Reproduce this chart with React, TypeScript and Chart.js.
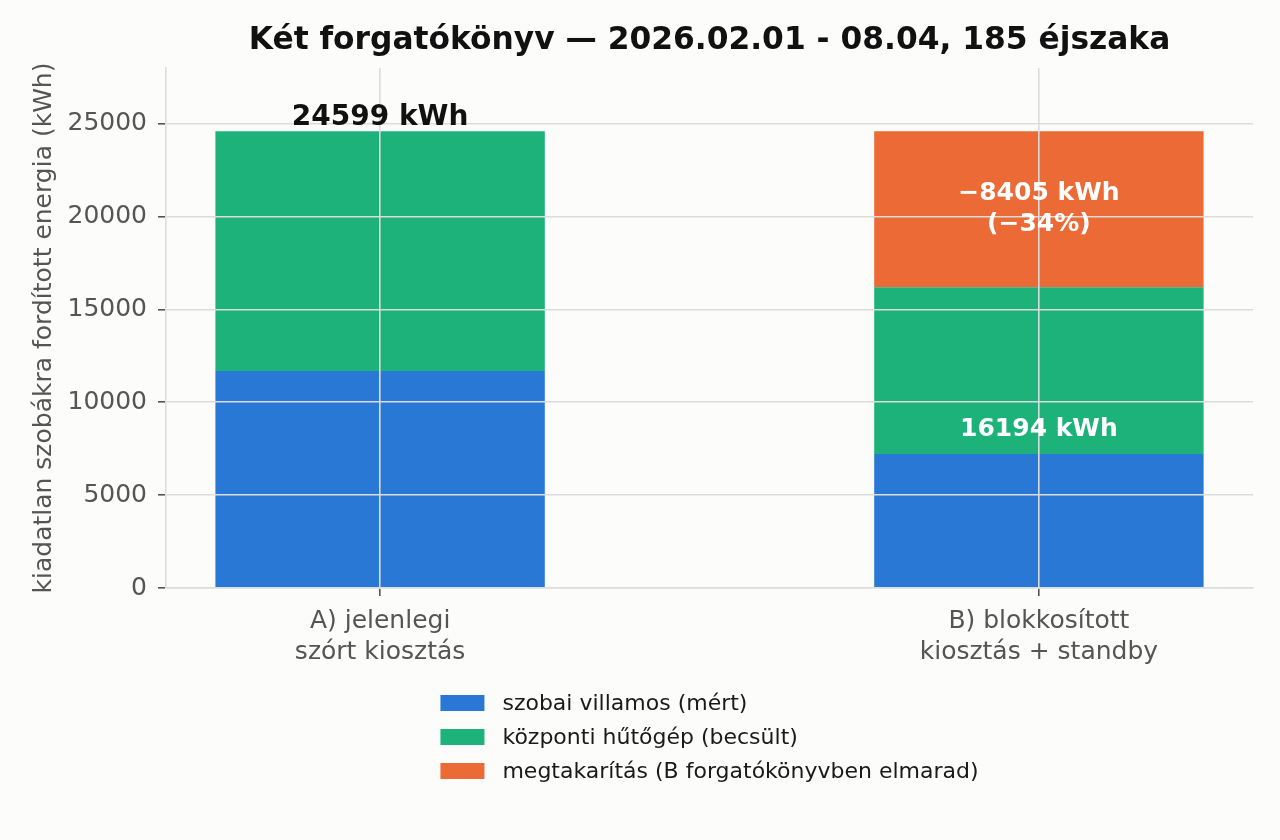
import React, { useEffect, useRef } from "react";
import { Chart, registerables } from "chart.js";

Chart.register(...registerables);

// ---- data ----
const categories: string[][] = [
  ["A) jelenlegi", "szórt kiosztás"],
  ["B) blokkosított", "kiosztás + standby"],
];
const seriesLabels = [
  "szobai villamos (mért)",
  "központi hűtőgép (becsült)",
  "megtakarítás (B forgatókönyvben elmarad)",
];
const roomElectric = [11690, 7220];
const centralChiller = [12909, 8974];
const savings = [null, 8405];
const yTicks = [0, 5000, 10000, 15000, 20000, 25000];
const titleText = "Két forgatókönyv — 2026.02.01 - 08.04, 185 éjszaka";
const yAxisTitle = "kiadatlan szobákra fordított energia (kWh)";

const COLORS = ["#2a78d6", "#1cb27a", "#ec6a36"];
const FONT = "'DejaVu Sans', sans-serif";
const BG = "#fcfcfa";

export default function App() {
  const ref = useRef<HTMLCanvasElement | null>(null);

  useEffect(() => {
    document.body.style.margin = "0";
    document.body.style.background = BG;
    const canvas = ref.current;
    if (!canvas) return;

    const totals = categories.map(
      (_, i) => (roomElectric[i] || 0) + (centralChiller[i] || 0)
    );

    const toPoints = (arr: (number | null)[]) =>
      arr
        .map((v, i) => (v == null ? null : { x: i, y: v }))
        .filter((p) => p !== null) as { x: number; y: number }[];

    const decorPlugin = {
      id: "decor",
      beforeDraw(chart: any) {
        const ctx = chart.ctx;
        ctx.save();
        ctx.fillStyle = BG;
        ctx.fillRect(0, 0, chart.width, chart.height);
        ctx.restore();
      },
      afterDraw(chart: any) {
        const ctx = chart.ctx;
        const area = chart.chartArea;
        const xs = chart.scales.x;
        const ys = chart.scales.y;
        const cx = (area.left + area.right) / 2;
        ctx.save();

        // bar annotations
        ctx.textAlign = "center";
        const base = totals[0];
        ctx.fillStyle = "#111";
        ctx.font = `bold 28px ${FONT}`;
        ctx.textBaseline = "alphabetic";
        ctx.fillText(`${base} kWh`, xs.getPixelForValue(0), ys.getPixelForValue(base) - 6);
        const bTotal = totals[1];
        ctx.fillStyle = "#ffffff";
        ctx.font = `bold 25px ${FONT}`;
        ctx.textBaseline = "middle";
        ctx.fillText(`${bTotal} kWh`, xs.getPixelForValue(1), ys.getPixelForValue(bTotal / 2) - 8);
        const s = savings[1] as number;
        const pct = Math.round((s / base) * 100);
        const mid = ys.getPixelForValue(bTotal + s / 2);
        ctx.fillText(`\u2212${s} kWh`, xs.getPixelForValue(1), mid - 16);
        ctx.fillText(`(\u2212${pct}%)`, xs.getPixelForValue(1), mid + 15);

        // title
        ctx.fillStyle = "#111";
        ctx.font = `bold 31.3px ${FONT}`;
        ctx.textAlign = "center";
        ctx.textBaseline = "middle";
        ctx.fillText(titleText, cx, 41);

        // legend
        ctx.font = `22px ${FONT}`;
        const maxW = Math.max(...seriesLabels.map((t) => ctx.measureText(t).width));
        const sw = 44;
        const gap = 18;
        const total = sw + gap + maxW;
        const x0 = cx - total / 2;
        ctx.textAlign = "left";
        chart.data.datasets.forEach((ds: any, i: number) => {
          const y = 703 + i * 34;
          ctx.fillStyle = ds.backgroundColor;
          ctx.fillRect(x0, y - 8, sw, 16);
          ctx.fillStyle = "#1a1a1a";
          ctx.fillText(ds.label, x0 + sw + gap, y + 1);
        });
        ctx.restore();
      },
    };

    const chart = new Chart(canvas, {
      type: "bar",
      data: {
        datasets: [
          { label: seriesLabels[0], data: toPoints(roomElectric), backgroundColor: COLORS[0], stack: "s" },
          { label: seriesLabels[1], data: toPoints(centralChiller), backgroundColor: COLORS[1], stack: "s" },
          { label: seriesLabels[2], data: toPoints(savings), backgroundColor: COLORS[2], stack: "s" },
        ] as any,
      },
      options: {
        animation: false,
        responsive: true,
        maintainAspectRatio: false,
        layout: { padding: { left: 0, right: 27, top: 68, bottom: 0 } },
        datasets: { bar: { barPercentage: 0.5, categoryPercentage: 1 } } as any,
        plugins: {
          legend: { display: false },
          title: { display: false },
          tooltip: { enabled: false },
        },
        scales: {
          x: {
            type: "linear",
            min: -0.325,
            max: 1.325,
            offset: false,
            afterBuildTicks: (scale: any) => {
              scale.ticks = categories.map((_, i) => ({ value: i }));
            },
            afterFit: (scale: any) => {
              scale.height = 252;
            },
            ticks: {
              autoSkip: false,
              maxRotation: 0,
              padding: 10,
              color: "#555",
              font: { family: FONT, size: 25, lineHeight: 1.25 },
              callback: (v: any) => categories[Number(v)] ?? "",
            },
            grid: {
              z: 1,
              offset: false,
              color: "#dcdcdc",
              lineWidth: 1.6,
              tickColor: "#555",
              tickLength: 8,
              tickWidth: 1.6,
            },
            border: { z: 1, color: "#dedede", width: 1.6 },
          },
          y: {
            type: "linear",
            min: 0,
            max: 28000,
            stacked: true,
            afterBuildTicks: (scale: any) => {
              scale.ticks = yTicks.map((v) => ({ value: v }));
            },
            afterFit: (scale: any) => {
              scale.width = 166;
            },
            ticks: {
              padding: 11,
              color: "#555",
              font: { family: FONT, size: 25 },
              callback: (v: any) => String(v),
            },
            grid: {
              z: 1,
              color: "#dcdcdc",
              lineWidth: 1.6,
              tickColor: "#555",
              tickLength: 8,
              tickWidth: 1.6,
            },
            border: { z: 1, color: "#dedede", width: 1.6 },
            title: {
              display: true,
              text: yAxisTitle,
              color: "#555",
              font: { family: FONT, size: 25 },
              padding: { top: 29, bottom: 0 },
            },
          },
        },
      } as any,
      plugins: [decorPlugin],
    });

    return () => chart.destroy();
  }, []);

  return (
    <div style={{ width: 1280, height: 840, position: "relative", background: BG }}>
      <canvas ref={ref} />
    </div>
  );
}
